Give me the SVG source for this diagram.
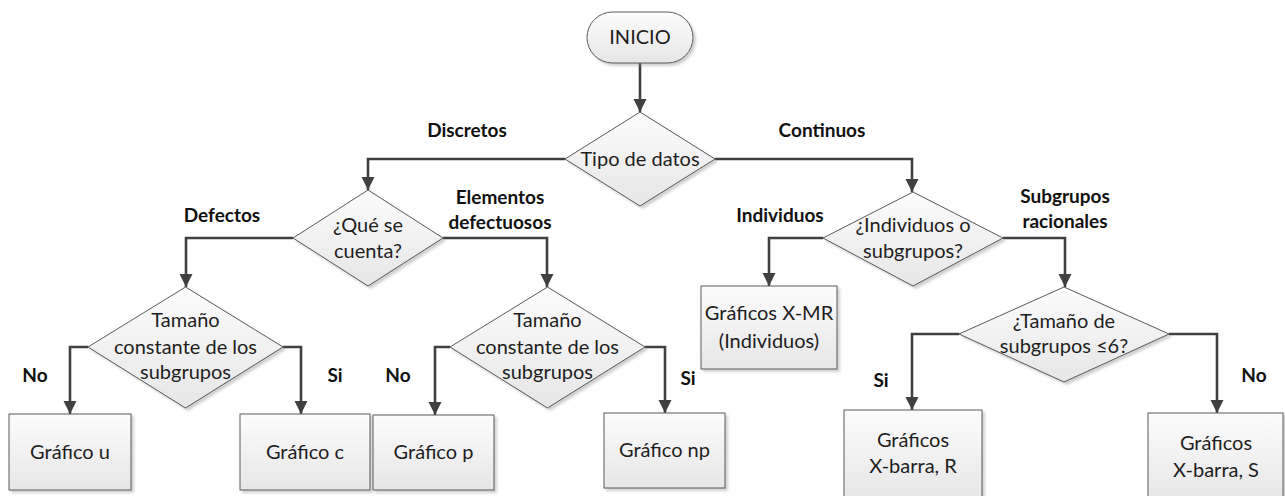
<svg xmlns="http://www.w3.org/2000/svg" width="1285" height="496" viewBox="0 0 1285 496">
<style>
.shape{fill:url(#g);stroke:#5a5a5a;stroke-width:1;filter:url(#sh)}
.t{font-family:Lato,"Liberation Sans",Arial,sans-serif;font-size:20px;fill:#1e1e1e;text-anchor:middle}
.lbl{font-family:Lato,"Liberation Sans",Arial,sans-serif;font-size:19px;font-weight:bold;fill:#111;text-anchor:middle}
.c{fill:none;stroke:#404040;stroke-width:2.6;marker-end:url(#ah)}
</style>
<defs>
<linearGradient id="g" x1="0" y1="0" x2="0" y2="1">
<stop offset="0" stop-color="#fcfcfc"/>
<stop offset="1" stop-color="#e6e6e6"/>
</linearGradient>
<filter id="sh" x="-10%" y="-10%" width="130%" height="130%">
<feDropShadow dx="2.5" dy="2.5" stdDeviation="1" flood-color="#8a8a8a" flood-opacity="0.4"/>
</filter>
<marker id="ah" markerUnits="userSpaceOnUse" markerWidth="14" markerHeight="14" refX="13" refY="6.5" orient="auto">
<path d="M0,0 L13,6.5 L0,13 z" fill="#404040"/>
</marker>
</defs>
<g id="connectors">
<path class="c" d="M640,63 V112"/>
<path class="c" d="M565,159 H368 V190"/>
<path class="c" d="M715,159 H912 V192"/>
<path class="c" d="M293,238 H186 V287"/>
<path class="c" d="M443,238 H547 V287"/>
<path class="c" d="M88,347 H70 V414"/>
<path class="c" d="M283,347 H301 V414"/>
<path class="c" d="M450,347 H435 V415"/>
<path class="c" d="M645,347 H665 V413"/>
<path class="c" d="M823,238 H769 V286"/>
<path class="c" d="M1003,238 H1065 V287"/>
<path class="c" d="M959,334 H912 V410"/>
<path class="c" d="M1169,334 H1217 V413"/>
</g>
<g id="labels">
<text class="lbl" x="467" y="137">Discretos</text>
<text class="lbl" x="822" y="137">Continuos</text>
<text class="lbl" x="222" y="222">Defectos</text>
<text class="lbl" x="500" y="204">Elementos</text>
<text class="lbl" x="500" y="229">defectuosos</text>
<text class="lbl" x="780" y="222">Individuos</text>
<text class="lbl" x="1065" y="203">Subgrupos</text>
<text class="lbl" x="1065" y="228">racionales</text>
<text class="lbl" x="35" y="382">No</text>
<text class="lbl" x="335" y="382">Si</text>
<text class="lbl" x="398" y="382">No</text>
<text class="lbl" x="688" y="385">Si</text>
<text class="lbl" x="881" y="387">Si</text>
<text class="lbl" x="1254" y="382">No</text>
</g>
<g id="inicio">
<rect class="shape" x="587" y="12" width="106" height="51" rx="25.5"/>
<text class="t" x="640" y="44">INICIO</text>
</g>
<g id="tipo">
<polygon class="shape" points="640,112 715,159 640,206 565,159"/>
<text class="t" x="640" y="166">Tipo de datos</text>
</g>
<g id="que">
<polygon class="shape" points="368,190 443,238 368,286 293,238"/>
<text class="t" x="368" y="232">¿Qué se</text>
<text class="t" x="368" y="258">cuenta?</text>
</g>
<g id="tam1">
<polygon class="shape" points="185.5,287 283,347 185.5,408 88,347"/>
<text class="t" x="185.5" y="327">Tamaño</text>
<text class="t" x="185.5" y="354">constante de los</text>
<text class="t" x="185.5" y="379">subgrupos</text>
</g>
<g id="tam2">
<polygon class="shape" points="547.5,287 645,347 547.5,408 450,347"/>
<text class="t" x="547.5" y="327">Tamaño</text>
<text class="t" x="547.5" y="354">constante de los</text>
<text class="t" x="547.5" y="379">subgrupos</text>
</g>
<g id="indiv">
<polygon class="shape" points="913,192 1003,238 913,286 823,238"/>
<text class="t" x="913" y="232">¿Individuos o</text>
<text class="t" x="913" y="258">subgrupos?</text>
</g>
<g id="tam6">
<polygon class="shape" points="1064,287 1169,334 1064,382 959,334"/>
<text class="t" x="1064" y="328">¿Tamaño de</text>
<text class="t" x="1064" y="353">subgrupos ≤6?</text>
</g>
<g id="gu">
<rect class="shape" x="9" y="414" width="122" height="76"/>
<text class="t" x="70" y="459">Gráfico u</text>
</g>
<g id="gc">
<rect class="shape" x="240" y="414" width="130" height="76"/>
<text class="t" x="305" y="459">Gráfico c</text>
</g>
<g id="gp">
<rect class="shape" x="373" y="415" width="121" height="75"/>
<text class="t" x="433.5" y="459">Gráfico p</text>
</g>
<g id="gnp">
<rect class="shape" x="604" y="413" width="121" height="75"/>
<text class="t" x="664.5" y="457">Gráfico np</text>
</g>
<g id="gxmr">
<rect class="shape" x="701" y="286" width="136" height="83"/>
<text class="t" x="769" y="320">Gráficos X-MR</text>
<text class="t" x="769" y="348">(Individuos)</text>
</g>
<g id="gxr">
<rect class="shape" x="844" y="410" width="138" height="90"/>
<text class="t" x="913" y="447">Gráficos</text>
<text class="t" x="913" y="473">X-barra, R</text>
</g>
<g id="gxs">
<rect class="shape" x="1148" y="413" width="135" height="90"/>
<text class="t" x="1216" y="450">Gráficos</text>
<text class="t" x="1216" y="477">X-barra, S</text>
</g>
</svg>
